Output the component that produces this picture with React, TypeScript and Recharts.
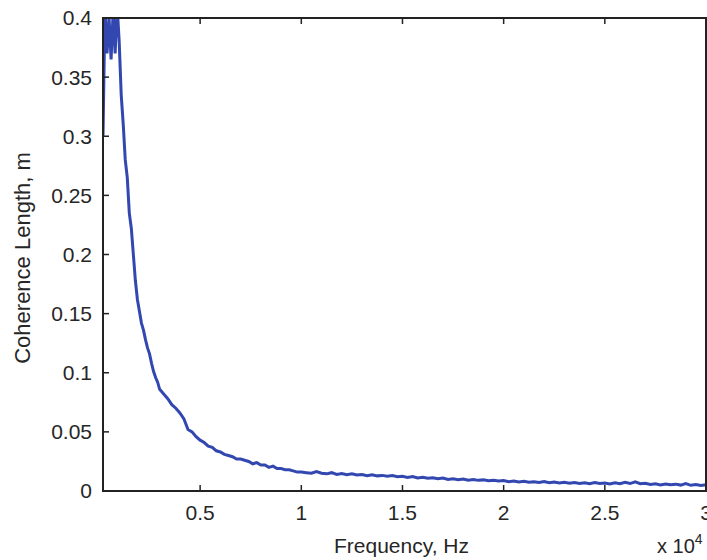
import { LineChart, Line, XAxis, YAxis } from "recharts";

// frequency samples (Hz)
const freqHz = [
  200, 300, 400, 500, 600, 700, 800, 900, 1000, 1100, 1200, 1300, 1400, 1500, 1600, 1700, 1800, 1900, 2000,
  2100, 2200, 2300, 2400, 2500, 2600, 2700, 2800, 2900, 3000,
  3200, 3400, 3600, 3800, 4000, 4200, 4400, 4600, 4800, 5000, 5200, 5400, 5600, 5800, 6000, 6200, 6400,
  6600, 6800, 7000, 7200, 7400, 7600, 7800, 8000, 8200, 8400, 8600, 8800, 9000, 9200, 9400, 9600, 9800, 10000,
  10250, 10500, 10750, 11000, 11250, 11500, 11750, 12000, 12250, 12500, 12750, 13000, 13250, 13500, 13750, 14000,
  14250, 14500, 14750, 15000, 15250, 15500, 15750, 16000, 16250, 16500, 16750, 17000, 17250, 17500, 17750, 18000,
  18250, 18500, 18750, 19000, 19250, 19500, 19750, 20000, 20250, 20500, 20750, 21000, 21250, 21500, 21750, 22000,
  22250, 22500, 22750, 23000, 23250, 23500, 23750, 24000, 24250, 24500, 24750, 25000, 25250, 25500, 25750, 26000,
  26250, 26500, 26750, 27000, 27250, 27500, 27750, 28000, 28250, 28500, 28750, 29000, 29250, 29500, 29750, 30000,
];

// coherence length (m), values at the top are clipped at 0.4 like the original
const coherenceM = [
  0.3, 0.41, 0.37, 0.4, 0.365, 0.405, 0.37, 0.41, 0.38, 0.335, 0.31, 0.28, 0.265, 0.235, 0.222, 0.2, 0.178, 0.162, 0.152,
  0.142, 0.136, 0.128, 0.121, 0.116, 0.108, 0.101, 0.096, 0.092, 0.086,
  0.082, 0.078, 0.073, 0.07, 0.066, 0.061, 0.052, 0.05, 0.046, 0.043, 0.041, 0.038, 0.037, 0.034, 0.033, 0.031, 0.03,
  0.029, 0.027, 0.027, 0.026, 0.025, 0.023, 0.024, 0.022, 0.022, 0.02, 0.021, 0.019, 0.019, 0.018, 0.018, 0.017, 0.016, 0.016,
  0.0155, 0.015, 0.0165, 0.015, 0.0145, 0.0155, 0.014, 0.0148, 0.0138, 0.0145, 0.0135, 0.014, 0.013, 0.0138, 0.0128, 0.0132,
  0.0125, 0.013, 0.012, 0.0125, 0.0115, 0.0122, 0.011, 0.0116, 0.0108, 0.0112, 0.0104, 0.011, 0.0098, 0.0104, 0.0096, 0.0102,
  0.0092, 0.0098, 0.009, 0.0094, 0.0086, 0.009, 0.0084, 0.0088, 0.0078, 0.0084, 0.0076, 0.0082, 0.0074, 0.0079, 0.0072, 0.008,
  0.007, 0.0076, 0.0068, 0.0074, 0.0066, 0.0072, 0.0064, 0.007, 0.0062, 0.0071, 0.0063, 0.0068, 0.006, 0.0069, 0.0061, 0.0074,
  0.0063, 0.0078, 0.0062, 0.0066, 0.0055, 0.0062, 0.0052, 0.006, 0.0053, 0.0058, 0.005, 0.0062, 0.0048, 0.0055, 0.0046, 0.0052,
];

const xTicks = [5000, 10000, 15000, 20000, 25000, 30000];
const yTicks = [0, 0.05, 0.1, 0.15, 0.2, 0.25, 0.3, 0.35, 0.4];

const data = freqHz.map((f, i) => ({ f, c: coherenceM[i] }));

const W = 707;
const H = 560;
// plot box edges (follow from margins + axis sizes below)
const box = { left: 103, top: 18, right: 706, bottom: 491 };
const tickLen = 6;

const axisColor = "#222";
const textColor = "#262626";
const font = "Arial, 'Liberation Sans', sans-serif";

// matlab style ticks: short marks pointing into the plot
const BottomTick = ({ x, payload }: any) => (
  <g>
    <line x1={x} x2={x} y1={box.bottom} y2={box.bottom - tickLen} stroke={axisColor} strokeWidth={1.5} />
    <text x={x} y={box.bottom + 14} dy="0.71em" textAnchor="middle" fontFamily={font} fontSize={21} fill={textColor}>
      {String(payload.value / 10000)}
    </text>
  </g>
);

const TopTick = ({ x }: any) => (
  <line x1={x} x2={x} y1={box.top} y2={box.top + tickLen} stroke={axisColor} strokeWidth={1.5} />
);

const LeftTick = ({ y, payload }: any) => (
  <g>
    <line x1={box.left} x2={box.left + tickLen} y1={y} y2={y} stroke={axisColor} strokeWidth={1.5} />
    <text x={box.left - 11} y={y} dy="0.355em" textAnchor="end" fontFamily={font} fontSize={21} fill={textColor}>
      {String(payload.value)}
    </text>
  </g>
);

const RightTick = ({ y }: any) => (
  <line x1={box.right} x2={box.right - tickLen} y1={y} y2={y} stroke={axisColor} strokeWidth={1.5} />
);

// x title plus the "x 10^4" exponent note in the bottom right corner
const XTitle = (props: any) => {
  const { x, y, width } = props.viewBox;
  return (
    <g fontFamily={font} fill={textColor}>
      <text x={x + width / 2 - 3} y={y + 62} fontSize={21} textAnchor="middle">
        Frequency, Hz
      </text>
      <text x={x + width - 49} y={y + 62} fontSize={20}>
        x 10
        <tspan fontSize={14} dy={-9}>4</tspan>
      </text>
    </g>
  );
};

const YTitle = () => (
  <text
    x={22}
    y={258}
    transform="rotate(-90, 22, 258)"
    textAnchor="middle"
    dominantBaseline="central"
    fontFamily={font}
    fontSize={22}
    fill={textColor}
  >
    Coherence Length, m
  </text>
);

export default function App() {
  return (
    <div style={{ position: "absolute", left: 0, top: 0, width: W, height: H, background: "#fff" }}>
      <LineChart width={W} height={H} data={data} margin={{ top: box.top - 1, right: 0, left: 0, bottom: 0 }}>
        <XAxis
          dataKey="f"
          type="number"
          domain={[200, 30000]}
          ticks={xTicks}
          interval={0}
          height={H - box.bottom}
          axisLine={false}
          tickLine={false}
          tick={<BottomTick />}
          label={<XTitle />}
          allowDataOverflow
        />
        <XAxis
          xAxisId="top"
          orientation="top"
          dataKey="f"
          type="number"
          domain={[200, 30000]}
          ticks={xTicks}
          interval={0}
          height={1}
          axisLine={false}
          tickLine={false}
          tick={<TopTick />}
        />
        <YAxis
          type="number"
          domain={[0, 0.4]}
          ticks={yTicks}
          interval={0}
          width={box.left}
          axisLine={false}
          tickLine={false}
          tick={<LeftTick />}
          label={<YTitle />}
          allowDataOverflow
        />
        <YAxis
          yAxisId="right"
          orientation="right"
          type="number"
          domain={[0, 0.4]}
          ticks={yTicks}
          interval={0}
          width={1}
          axisLine={false}
          tickLine={false}
          tick={<RightTick />}
        />
        <Line
          type="linear"
          dataKey="c"
          stroke="#3347b0"
          strokeWidth={3}
          dot={false}
          isAnimationActive={false}
        />
      </LineChart>
      {/* plot frame */}
      <div
        style={{
          position: "absolute",
          left: box.left - 1,
          top: box.top - 1,
          width: box.right - box.left + 2,
          height: box.bottom - box.top + 2,
          boxSizing: "border-box",
          border: `2px solid ${axisColor}`,
          pointerEvents: "none",
          zIndex: 2,
        }}
      />
    </div>
  );
}
